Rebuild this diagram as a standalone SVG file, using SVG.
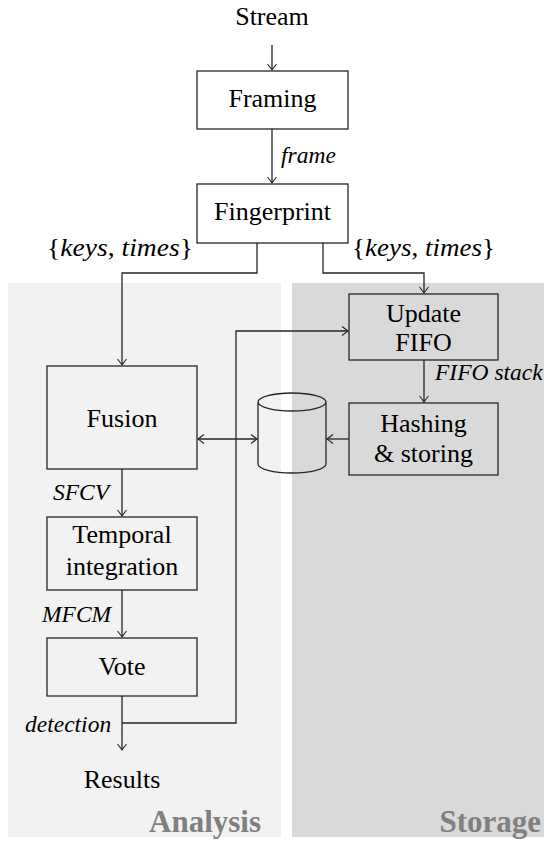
<svg xmlns="http://www.w3.org/2000/svg" width="544" height="841" viewBox="0 0 544 841">
<style>
.box{fill:none;stroke:#262626;stroke-width:1.3}
.sbox{fill:#d9d9d9;stroke:#262626;stroke-width:1.3}
.c{fill:none;stroke:#262626;stroke-width:1.3}
</style>
<defs>
<marker id="arr" markerUnits="userSpaceOnUse" markerWidth="12" markerHeight="12" viewBox="-8 -6 10 12" refX="0" refY="0" orient="auto-start-reverse">
<path d="M-6,-4.5 Q-1.5,-1 0,0 Q-1.5,1 -6,4.5" fill="none" stroke="#262626" stroke-width="1.1"/>
</marker>
</defs>
<g id="backgrounds">
<rect x="8" y="283" width="273" height="554" fill="#f2f2f2"/>
<rect x="292" y="283" width="252" height="554" fill="#d9d9d9"/>
<text x="261" y="832" font-family="Times New Roman" font-size="31" font-weight="bold" fill="#808080" text-anchor="end">Analysis</text>
<text x="541" y="832" font-family="Times New Roman" font-size="31" font-weight="bold" fill="#808080" text-anchor="end">Storage</text>
</g>
<g id="connectors">
<path class="c" d="M272,45 V70" marker-end="url(#arr)"/>
<path class="c" d="M272,129 V183" marker-end="url(#arr)"/>
<path class="c" d="M257,243 V273 H122 V365" marker-end="url(#arr)"/>
<path class="c" d="M323,243 V273 H424 V293" marker-end="url(#arr)"/>
<path class="c" d="M424,360 V402" marker-end="url(#arr)"/>
<path class="c" d="M349,439 H327" marker-end="url(#arr)"/>
<path class="c" d="M198,439 H257" marker-start="url(#arr)" marker-end="url(#arr)"/>
<path class="c" d="M122,469 V516" marker-end="url(#arr)"/>
<path class="c" d="M122,590 V637" marker-end="url(#arr)"/>
<path class="c" d="M122,696 V750" marker-end="url(#arr)"/>
<path class="c" d="M122,723 H236 V331 H348" marker-end="url(#arr)"/>
<text x="281" y="163" font-family="Times New Roman" font-size="23.5" font-style="italic">frame</text>
<text x="435" y="380" font-family="Times New Roman" font-size="23.5" font-style="italic">FIFO stack</text>
<text x="53" y="500" font-family="Times New Roman" font-size="23.5" font-style="italic">SFCV</text>
<text x="42" y="622" font-family="Times New Roman" font-size="23.5" font-style="italic">MFCM</text>
<text x="25" y="732" font-family="Times New Roman" font-size="23.5" font-style="italic">detection</text>
<text x="47" y="256" font-family="Times New Roman" font-size="26" textLength="146" lengthAdjust="spacingAndGlyphs">{<tspan font-style="italic">keys</tspan>, <tspan font-style="italic">times</tspan>}</text>
<text x="352" y="256" font-family="Times New Roman" font-size="26" textLength="143" lengthAdjust="spacingAndGlyphs">{<tspan font-style="italic">keys</tspan>, <tspan font-style="italic">times</tspan>}</text>
</g>
<g id="stream"><text x="272" y="25" font-family="Times New Roman" font-size="26" text-anchor="middle">Stream</text></g>
<g id="framing"><rect class="box" x="197" y="71" width="151" height="58"/><text x="272.5" y="107" font-family="Times New Roman" font-size="26" text-anchor="middle">Framing</text></g>
<g id="fingerprint"><rect class="box" x="197" y="184" width="151" height="59"/><text x="272.5" y="220" font-family="Times New Roman" font-size="26" text-anchor="middle">Fingerprint</text></g>
<g id="update"><rect class="sbox" x="349" y="294" width="149" height="66"/><text x="423.5" y="322" font-family="Times New Roman" font-size="26" text-anchor="middle">Update</text><text x="423.5" y="351" font-family="Times New Roman" font-size="26" text-anchor="middle">FIFO</text></g>
<g id="hashing"><rect class="sbox" x="349" y="403" width="149" height="72"/><text x="423.5" y="432" font-family="Times New Roman" font-size="26" text-anchor="middle">Hashing</text><text x="423.5" y="462" font-family="Times New Roman" font-size="26" text-anchor="middle">&amp; storing</text></g>
<g id="database"><path class="c" d="M258,402 V464 A34,9 0 0 0 326,464 V402 A34,9 0 0 0 258,402 A34,9 0 0 0 326,402"/></g>
<g id="fusion"><rect class="box" x="47" y="366" width="150" height="103"/><text x="122" y="427" font-family="Times New Roman" font-size="26" text-anchor="middle">Fusion</text></g>
<g id="temporal"><rect class="box" x="47" y="517" width="150" height="73"/><text x="122" y="543" font-family="Times New Roman" font-size="26" text-anchor="middle">Temporal</text><text x="122" y="575" font-family="Times New Roman" font-size="26" text-anchor="middle">integration</text></g>
<g id="vote"><rect class="box" x="47" y="638" width="150" height="58"/><text x="122" y="675" font-family="Times New Roman" font-size="26" text-anchor="middle">Vote</text></g>
<g id="results"><text x="122" y="788" font-family="Times New Roman" font-size="26" text-anchor="middle">Results</text></g>
</svg>
